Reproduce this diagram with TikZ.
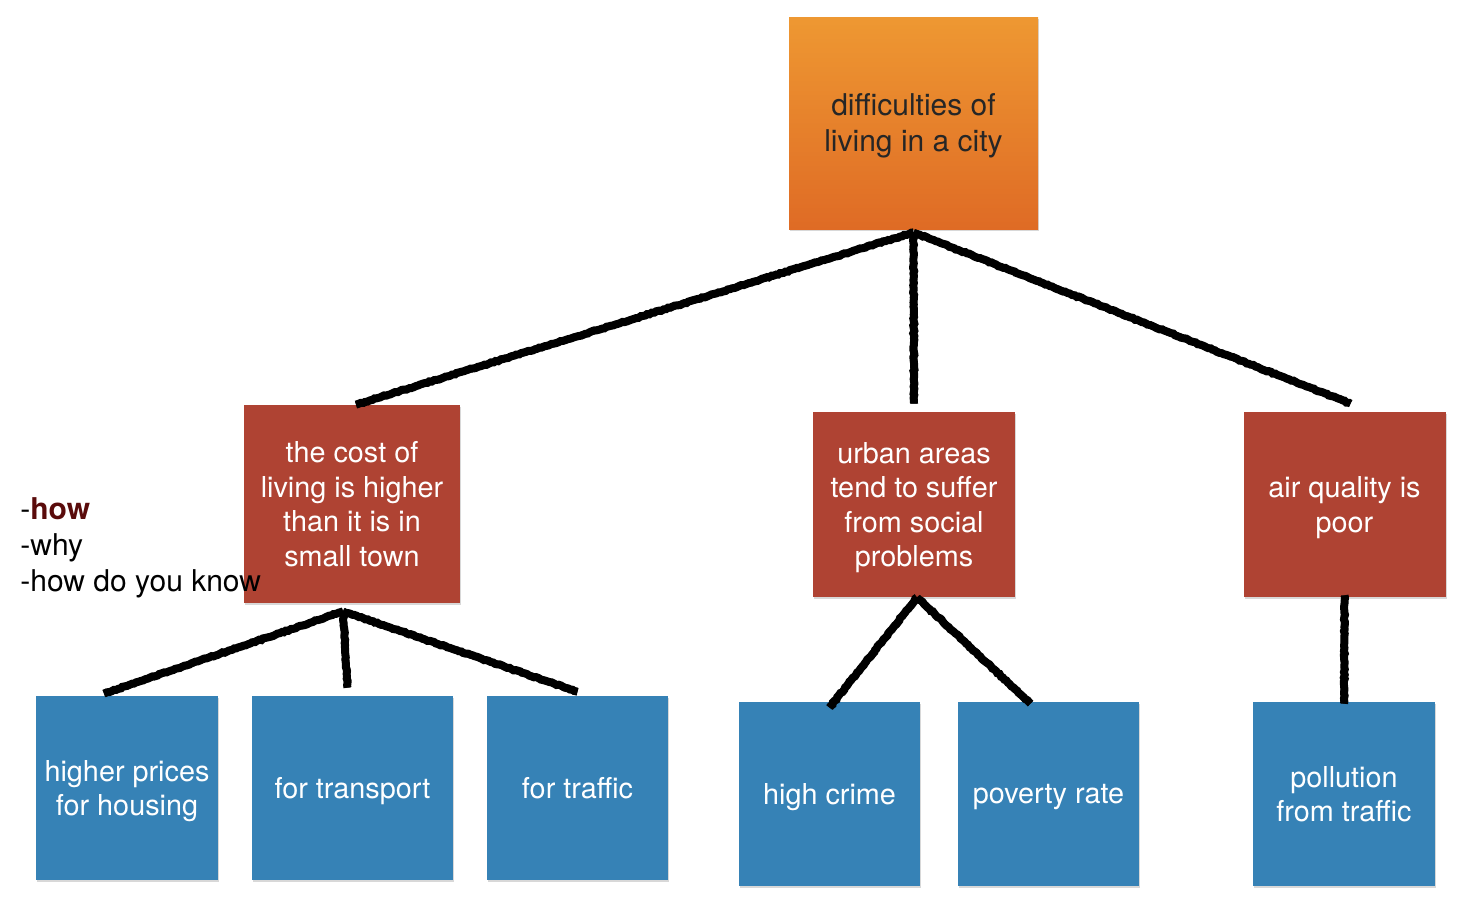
\documentclass[tikz,border=0pt]{standalone}
\usepackage{fontspec}
\setmainfont{TeX Gyre Heros}
\usetikzlibrary{shadows,decorations.pathmorphing}
\definecolor{orangetop}{HTML}{EE9832}
\definecolor{orangebot}{HTML}{DF6B25}
\definecolor{brick}{HTML}{AF4333}
\definecolor{sky}{HTML}{3682B6}
\definecolor{howred}{HTML}{5A0B0B}
\tikzset{
	card/.style={inner sep=0pt, align=center, font=\fontsize{14.4}{17.3}\selectfont,
		text depth=-2pt,
		drop shadow={opacity=0.3, shadow xshift=0.6pt, shadow yshift=-1.2pt}},
	topic/.style={card, shading=axis, top color=orangetop, bottom color=orangebot, text=black!85,
		font=\fontsize{15}{18}\selectfont},
	cause/.style={card, fill=brick, text=white},
	detail/.style={card, fill=sky, text=white},
	marker/.style={line width=3.4pt, line join=round,
		preaction={draw, line width=4pt, decorate,
			decoration={random steps, segment length=1.2pt, amplitude=0.3pt}}}
}
\begin{document}
\begin{tikzpicture}[x=0.5pt, y=-0.5pt]
		\useasboundingbox[fill=white] (0, 0) rectangle (1466, 912);
		% top
		\node[topic, minimum width=124.5pt, minimum height=106pt] (city) at (913.5, 123) {difficulties of\\living in a city};
		% causes
		\node[cause, minimum width=108pt, minimum height=99pt] (cost) at (352, 504) {the cost of\\living is higher\\than it is in\\small town};
		\node[cause, minimum width=101pt, minimum height=92.5pt] (urban) at (914, 504.5) {urban areas\\tend to suffer\\from social\\problems};
		\node[cause, minimum width=101pt, minimum height=92.5pt] (air) at (1344.5, 504.5) {air quality is\\poor};
		% details
		\node[detail, minimum width=91pt, minimum height=92pt] (housing) at (127, 788) {higher prices\\for housing};
		\node[detail, minimum width=100.5pt, minimum height=92pt] (transport) at (352.5, 788) {for transport};
		\node[detail, minimum width=90.5pt, minimum height=92pt] (traffic) at (577.5, 788) {for traffic};
		\node[detail, minimum width=90.5pt, minimum height=92pt] (crime) at (829.5, 794) {high crime};
		\node[detail, minimum width=90.5pt, minimum height=92pt] (poverty) at (1048.5, 794) {poverty rate};
		\node[detail, minimum width=91pt, minimum height=92pt] (pollution) at (1344, 794) {pollution\\from traffic};
		% questions
		\node[anchor=west, align=left, inner sep=0pt, font=\fontsize{15}{18}\selectfont] (questions) at (20, 548) {-\textbf{\color{howred}how}\\-why\\-how do you know};
		% connectors
		\draw[marker] ([yshift=-1.5pt]city.south) -- ([xshift=2pt]cost.north);
		\draw[marker] ([yshift=-1.5pt]city.south) -- ([yshift=4pt]urban.north);
		\draw[marker] ([yshift=-1.5pt]city.south) -- ([xshift=3pt, yshift=4pt]air.north);
		\draw[marker] ([xshift=-4.5pt, yshift=-4pt]cost.south) -- ([xshift=-11.5pt, yshift=1pt]housing.north);
		\draw[marker] ([xshift=-4.5pt, yshift=-4pt]cost.south) -- ([xshift=-2.5pt, yshift=4pt]transport.north);
		\draw[marker] ([xshift=-4.5pt, yshift=-4pt]cost.south) -- ([yshift=2pt]traffic.north);
		\draw[marker] ([xshift=1.5pt]urban.south) -- ([yshift=-3pt]crime.north);
		\draw[marker] ([xshift=1.5pt]urban.south) -- ([xshift=-9pt, yshift=-1pt]poverty.north);
		\draw[marker] ([yshift=1pt]air.south) -- ([yshift=-1pt]pollution.north);
	\end{tikzpicture}
\end{document}
